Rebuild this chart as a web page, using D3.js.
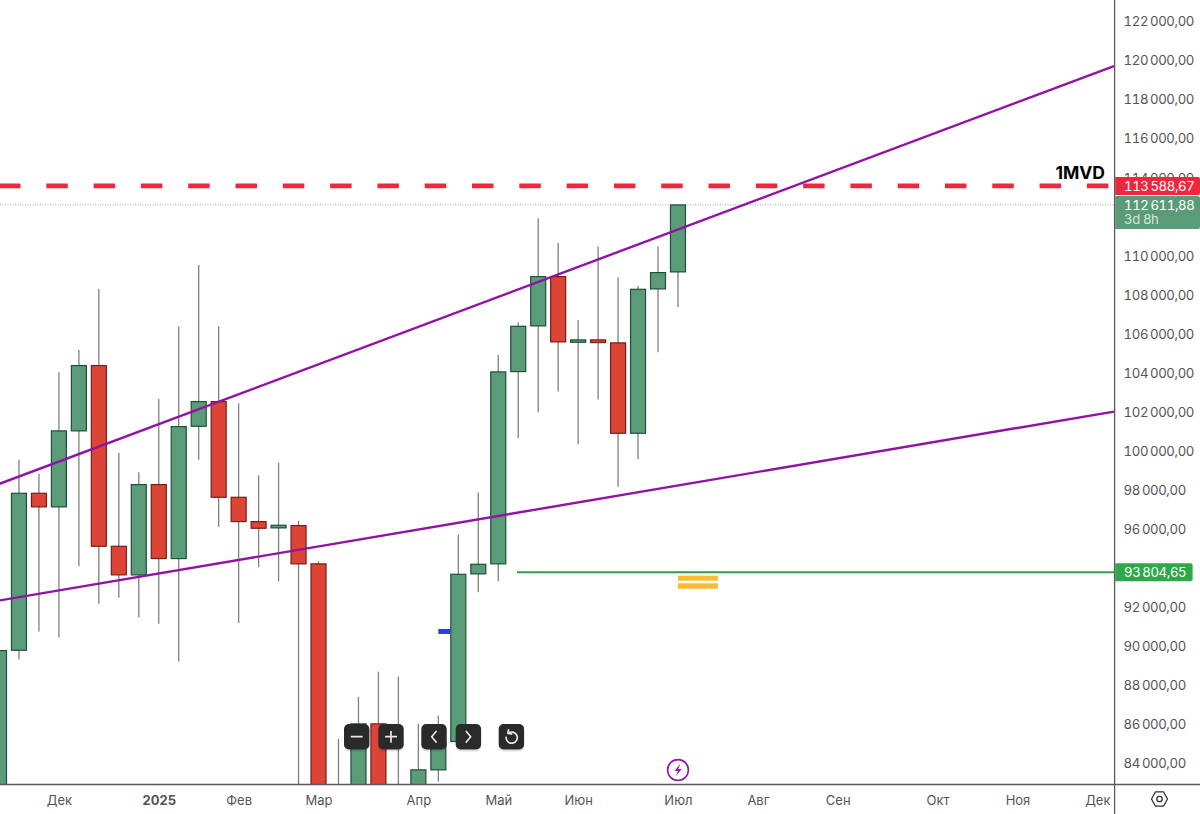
<!DOCTYPE HTML>
<html>
<head>
	<title>BTC weekly</title>
	<meta charset="utf-8">
	<script src="https://cdnjs.cloudflare.com/ajax/libs/d3/7.8.5/d3.min.js"></script>
	<style>
		html, body { margin:0; padding:0; background:#fff; }
		svg { display:block; }
		text { font-family:Inter, "Noto Sans", sans-serif; }
		.price { font-variant-numeric:tabular-nums; letter-spacing:-0.4px; }
	</style>
</head>
<body>
	<div id="main"></div>
<script>
// weekly candles (index 0 = first candle at the left edge)
// values under the bottom of the chart are guesses, they get clipped anyway
var opens  = [82000,89804,97844,97148,101040,104384,95130,93665,98290,94500,101275,102540,97639,96395,96072,96190,94229,82500,82000,86035,82500,82000,83680,85129,93717,94229,104076,106417,108941,105577,105700,105546,100917,108311,109182];
var highs  = [92000,99555,98838,104041,105188,108311,99913,98920,102678,106381,109541,106396,102453,98766,99416,96431,94362,85267,87418,88713,88457,86035,86460,95729,97880,104932,106601,111927,110667,106724,110478,108906,108465,110478,112644];
var lows   = [81000,89328,90762,90455,94106,92180,92488,91494,91156,89226,99555,96124,91207,94055,93338,81000,81000,81000,81000,81000,81000,81000,83080,85129,92775,93338,100681,101992,103052,100354,102643,98172,99585,105065,107390];
var closes = [89789,97844,97148,101040,104384,95130,93665,98290,94500,101260,102540,97639,96395,96052,96206,94229,82000,81500,86035,82000,82500,83680,85129,93696,94208,104061,106396,108941,105597,105700,105562,100917,108291,109146,112611.88];

// 112000 and 94000 sit behind the price tags in the picture so they are left out
var priceTicks = [84000,86000,88000,90000,92000,96000,98000,100000,102000,104000,106000,108000,110000,114000,116000,118000,120000,122000];
var monthLabels = ['Дек','2025','Фев','Мар','Апр','Май','Июн','Июл','Авг','Сен','Окт','Ноя','Дек'];
var monthIndex  = [3,8,12,16,21,25,29,34,38,42,47,51,55];

// levels and drawn lines
var levelResistance = 113588.67;
var levelLast = 112611.88;
var levelSupport = 93804.65;
var upperTrend = [[0,98320],[55.83,119721]];
var lowerTrend = [[0,92349],[55.83,102028]];
var orangeMarks = [[34,36,93624,93368],[34,36,93233,92957]];
var blueMark = [22,22.6,90895,90639];

var width = 1200, height = 814;
var axisX = 1114.6, axisY = 784.5;

var x = d3.scaleLinear().domain([0,55]).range([-1,1097.35]);
var y = d3.scaleLinear().domain([122000,84000]).range([21.6,763.6]);

var ru = d3.formatLocale({decimal:',', thousands:'\u2009', grouping:[3], currency:['','']});
var priceFmt = ru.format(',.2f');

var svg = d3.select('#main').append('svg').attr('width',width).attr('height',height);

svg.append('clipPath').attr('id','plot').append('rect')
	.attr('x',0).attr('y',0).attr('width',axisX).attr('height',axisY);

var plot = svg.append('g').attr('clip-path','url(#plot)');

// last price dotted line
plot.append('line')
	.attr('x1',0).attr('x2',axisX)
	.attr('y1',y(levelLast)).attr('y2',y(levelLast))
	.attr('stroke','#8fa9a4').attr('stroke-width',1).attr('stroke-dasharray','1 1.5');

// wicks
plot.selectAll('line.wick').data(opens).enter().append('line')
	.attr('class','wick')
	.attr('x1',function(d,i){ return x(i); })
	.attr('x2',function(d,i){ return x(i); })
	.attr('y1',function(d,i){ return y(highs[i]); })
	.attr('y2',function(d,i){ return y(lows[i]); })
	.attr('stroke','#808080').attr('stroke-width',1.3);

// bodies
plot.selectAll('rect.body').data(opens).enter().append('rect')
	.attr('class','body')
	.attr('x',function(d,i){ return x(i)-7.5; })
	.attr('width',15)
	.attr('y',function(d,i){ return y(Math.max(opens[i],closes[i])); })
	.attr('height',function(d,i){ return Math.max(1,Math.abs(y(opens[i])-y(closes[i]))); })
	.attr('fill',function(d,i){ return closes[i]>=opens[i] ? '#5a9c78' : '#dc4436'; })
	.attr('stroke',function(d,i){ return closes[i]>=opens[i] ? '#1f4f3d' : '#73201a'; })
	.attr('stroke-width',1.2);

// trend lines
[upperTrend,lowerTrend].forEach(function(t){
	plot.append('line')
		.attr('x1',x(t[0][0])).attr('y1',y(t[0][1]))
		.attr('x2',x(t[1][0])).attr('y2',y(t[1][1]))
		.attr('stroke','#9113a6').attr('stroke-width',2.4);
});

// resistance dashes
plot.append('line')
	.attr('x1',0).attr('x2',axisX)
	.attr('y1',y(levelResistance)).attr('y2',y(levelResistance))
	.attr('stroke','#f0263f').attr('stroke-width',4.6)
	.attr('stroke-dasharray','21.5 25.8').attr('stroke-dashoffset',1);

// support line starts at the week of the low
plot.append('line')
	.attr('x1',x(25.94)).attr('x2',axisX)
	.attr('y1',y(levelSupport)).attr('y2',y(levelSupport))
	.attr('stroke','#2f9e4a').attr('stroke-width',2);

// small marks
orangeMarks.forEach(function(m){
	plot.append('rect')
		.attr('x',x(m[0])).attr('width',x(m[1])-x(m[0]))
		.attr('y',y(m[2])).attr('height',y(m[3])-y(m[2]))
		.attr('fill','#fdbb2d');
});
plot.append('rect')
	.attr('x',x(blueMark[0])).attr('width',x(blueMark[1])-x(blueMark[0]))
	.attr('y',y(blueMark[2])).attr('height',y(blueMark[3])-y(blueMark[2]))
	.attr('fill','#2c3bf0');

svg.append('text').attr('x',1105).attr('y',179)
	.attr('text-anchor','end').attr('font-size',17.5).attr('font-weight',700).attr('fill','#000')
	.text('1MVD');

// price axis
var yAxis = d3.axisRight(y).tickValues(priceTicks).tickSize(0).tickPadding(9).tickFormat(priceFmt);
var gy = svg.append('g').attr('transform','translate('+axisX+',0)').call(yAxis);
gy.select('.domain').remove();
gy.selectAll('text').attr('class','price').attr('font-size',13.2).attr('fill','#555').style('font-family','Inter');

// time axis
var xAxis = d3.axisBottom(x).tickValues(monthIndex).tickSize(0).tickPadding(11)
	.tickFormat(function(d){ return monthLabels[monthIndex.indexOf(d)]; });
var gx = svg.append('g').attr('transform','translate(0,'+axisY+')').call(xAxis);
gx.select('.domain').remove();
gx.selectAll('text').attr('font-size',13).attr('fill','#555').style('font-family','Inter')
	.attr('font-weight',function(d){ return monthLabels[monthIndex.indexOf(d)]=='2025' ? 700 : 400; });

svg.append('line').attr('x1',axisX).attr('x2',axisX).attr('y1',0).attr('y2',height)
	.attr('stroke','#5a5a5a').attr('stroke-width',1.3);
svg.append('line').attr('x1',0).attr('x2',width).attr('y1',axisY).attr('y2',axisY)
	.attr('stroke','#5a5a5a').attr('stroke-width',1.3);

// price tags
function tag(top,h,w,color){
	var r = 2;
	svg.append('path')
		.attr('d','M'+(axisX+0.6)+','+top+'H'+(axisX+w-r)+'q'+r+',0 '+r+','+r+'V'+(top+h-r)+'q0,'+r+' -'+r+','+r+'H'+(axisX+0.6)+'Z')
		.attr('fill',color);
}
function tagText(px,py,s,color){
	svg.append('text').attr('class','price').attr('x',px).attr('y',py).attr('font-size',13.2).attr('fill',color).text(s);
}
tag(y(levelResistance)-8.8,18,85.4,'#f0263f');
tagText(1124,y(levelResistance)+5,priceFmt(levelResistance),'#fff');
tag(y(levelLast)-8.8,33,85.4,'#5a9c78');
tagText(1124,y(levelLast)+4.6,priceFmt(levelLast),'#fff');
tagText(1124,y(levelLast)+18.6,'3d 8h','#d4e6db');
tag(y(levelSupport)-9,18,78,'#2fa84a');
tagText(1124,y(levelSupport)+5,priceFmt(levelSupport),'#fff');

// chart buttons
function button(bx,draw){
	var g = svg.append('g').attr('transform','translate('+bx+',724)');
	g.append('rect').attr('x',0).attr('y',2).attr('width',25.4).attr('height',25.4).attr('rx',5)
		.attr('fill','#000').attr('opacity',0.12);
	g.append('rect').attr('width',25.4).attr('height',25.4).attr('rx',5).attr('fill','#2a2a2a');
	g.append('path').attr('d',draw).attr('fill','none').attr('stroke','#e8e8e8')
		.attr('stroke-width',1.7).attr('stroke-linecap','round').attr('stroke-linejoin','round');
}
button(344,'M7.5,12.7H18');
button(378.3,'M7.5,12.7H18M12.7,7.5V18');
button(421.3,'M14.8,7.5L10.4,12.7L14.8,18');
button(455.7,'M10.6,7.5L15,12.7L10.6,18');
button(498.7,'M9.4,9.3A5.6,5.6 0 1 1 7.4,13.3M9.8,5.8L9.2,9.5L12.9,9.9');

// lightning badge
svg.append('circle').attr('cx',678).attr('cy',770).attr('r',10.4)
	.attr('fill','#fff').attr('stroke','#8e1aa5').attr('stroke-width',1.6);
svg.append('path').attr('d','M680.4,763.6L674.6,771H678L675.6,776.4L681.6,769H678.2Z').attr('fill','#8e1aa5');

// settings hexagon
svg.append('path').attr('d','M1155.5,791.8H1163.5L1167.5,799L1163.5,806.2H1155.5L1151.5,799Z')
	.attr('fill','none').attr('stroke','#333').attr('stroke-width',1.3).attr('stroke-linejoin','round');
svg.append('circle').attr('cx',1159.5).attr('cy',799).attr('r',2.7)
	.attr('fill','none').attr('stroke','#333').attr('stroke-width',1.3);
</script>
</body>
</html>
